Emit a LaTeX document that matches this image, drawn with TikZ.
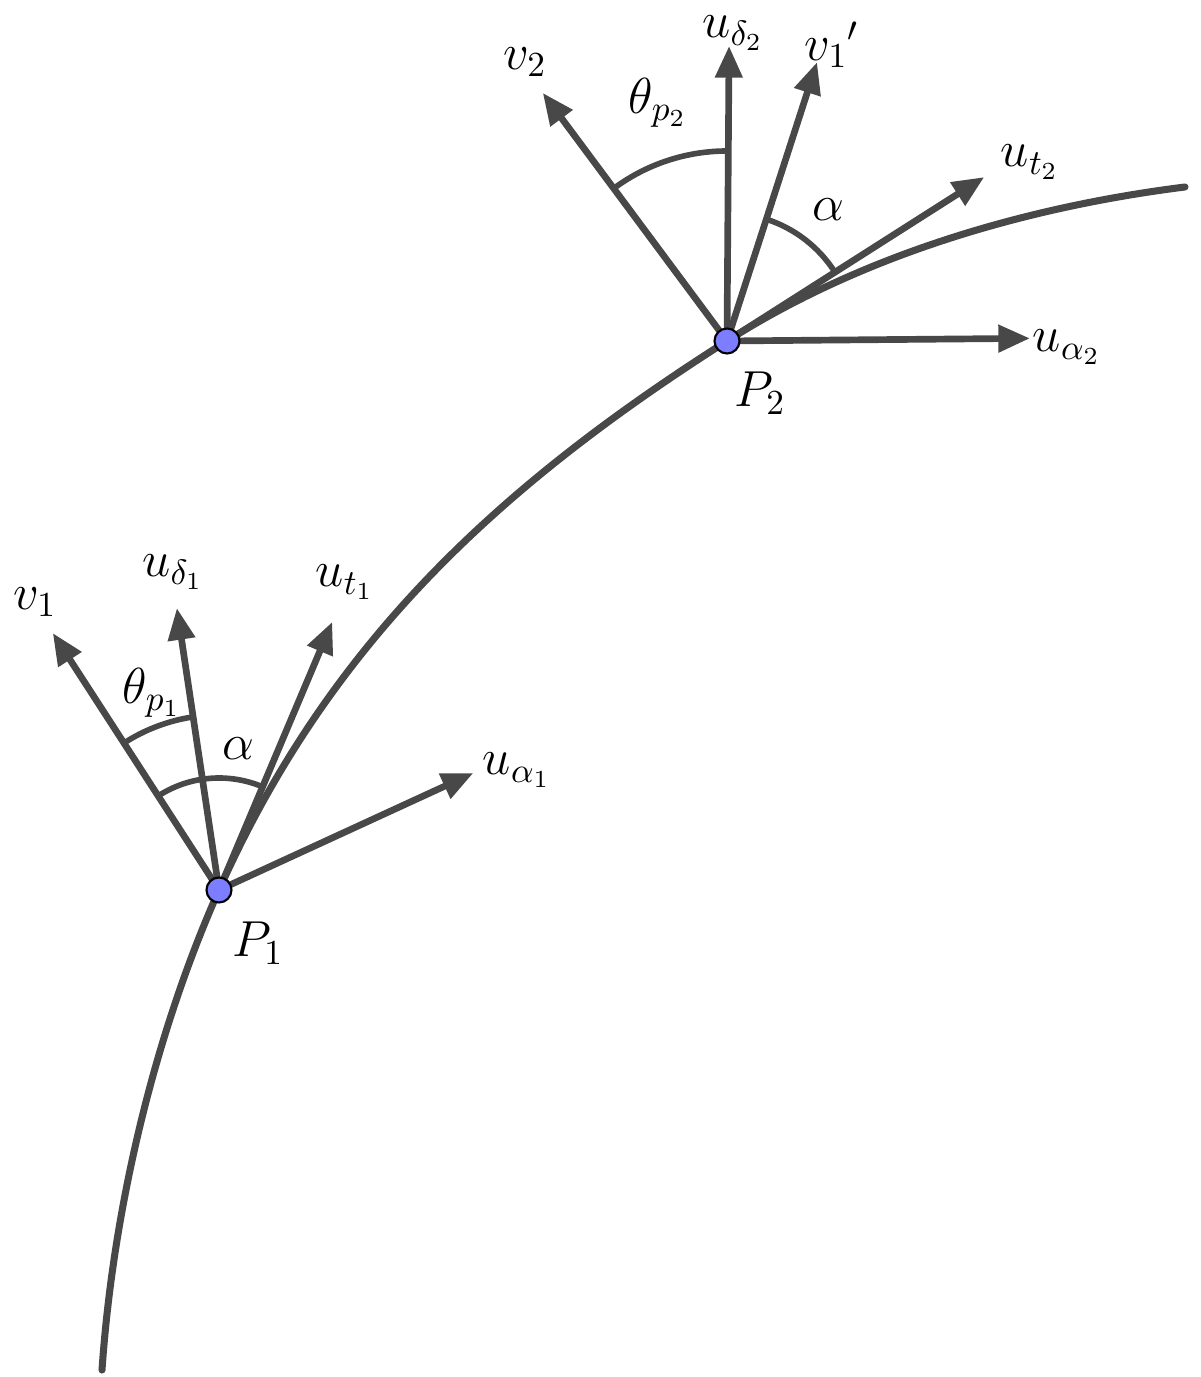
\documentclass[tikz,border=0pt]{standalone}
\usepackage{amsmath}
\usetikzlibrary{arrows.meta}
\definecolor{ggray}{RGB}{72,72,72}
\definecolor{ptblue}{RGB}{125,125,255}

\begin{document}
\begin{tikzpicture}[
	vec/.style={ggray,line width=1.9pt,-{Triangle[length=9pt,width=7.5pt]}},
	ang/.style={ggray,line width=1.6pt},
	pt/.style={
	  circle,
	  draw=black,
	  fill=ptblue,
	  line width=0.6pt,
	  minimum size=0.25cm,
	  inner sep=0pt
	  },
	lbl/.style={font=\Large,inner sep=1pt}
	]
	\useasboundingbox (0,0) rectangle (12,13.77);

	\coordinate (p1) at (2.19,4.87);
	\coordinate (p2) at (7.27,10.36);
	\coordinate (cbeg) at (1.02,0.07);
	\coordinate (cend) at (11.85,11.90);

	% the path
	\draw[ggray,line width=2pt,line cap=round]
		(cbeg) .. controls (1.13,1.67) and (1.54,3.41) .. (p1)
		.. controls (3.29,7.34) and (4.99,8.91) .. (p2)
		.. controls (8.62,11.22) and (10.26,11.70) .. (cend);

	% first point
	\coordinate (v1) at ([shift={(122.9:3.06)}]p1);
	\coordinate (ud1) at ([shift={(98.5:2.85)}]p1);
	\coordinate (ut1) at ([shift={(67.1:2.91)}]p1);
	\coordinate (ua1) at ([shift={(24.7:2.80)}]p1);

	\draw[vec] (p1) -- (v1);
	\draw[vec] (p1) -- (ud1);
	\draw[vec] (p1) -- (ut1);
	\draw[vec] (p1) -- (ua1);
	\draw[ang] ([shift={(122.9:1.75)}]p1) arc[start angle=122.9,end angle=98.5,radius=1.75];
	\draw[ang] ([shift={(122.9:1.12)}]p1) arc[start angle=122.9,end angle=67.1,radius=1.12];

	\node[pt] (P1) at (p1) {};
	\node[lbl] (lP1) at (2.58,4.34) {$P_1$};
	\node[lbl] (lv1) at (0.35,7.75) {$v_1$};
	\node[lbl] (lud1) at (1.73,8.05) {$u_{\delta_1}$};
	\node[lbl] (lut1) at (3.45,7.95) {$u_{t_1}$};
	\node[lbl] (lua1) at (5.17,6.07) {$u_{\alpha_1}$};
	\node[lbl] (lth1) at (1.52,6.84) {$\theta_{p_1}$};
	\node[lbl] (lal1) at (2.38,6.28) {$\alpha$};

	% second point
	\coordinate (v2) at ([shift={(126.6:3.09)}]p2);
	\coordinate (ud2) at ([shift={(89.6:2.95)}]p2);
	\coordinate (v1p) at ([shift={(72.1:2.93)}]p2);
	\coordinate (ut2) at ([shift={(32.5:3.05)}]p2);
	\coordinate (ua2) at ([shift={(0.5:3.03)}]p2);

	\draw[vec] (p2) -- (v2);
	\draw[vec] (p2) -- (ud2);
	\draw[vec] (p2) -- (v1p);
	\draw[vec] (p2) -- (ut2);
	\draw[vec] (p2) -- (ua2);
	\draw[ang] ([shift={(126.6:1.90)}]p2) arc[start angle=126.6,end angle=89.6,radius=1.90];
	\draw[ang] ([shift={(72.1:1.28)}]p2) arc[start angle=72.1,end angle=32.5,radius=1.28];

	\node[pt] (P2) at (p2) {};
	\node[lbl] (lP2) at (7.60,9.84) {$P_2$};
	\node[lbl] (lv2) at (5.25,13.15) {$v_2$};
	\node[lbl] (lud2) at (7.33,13.44) {$u_{\delta_2}$};
	\node[lbl] (lv1p) at (8.32,13.32) {${v_1}'$};
	\node[lbl] (lut2) at (10.30,12.15) {$u_{t_2}$};
	\node[lbl] (lua2) at (10.67,10.30) {$u_{\alpha_2}$};
	\node[lbl] (lth2) at (6.58,12.74) {$\theta_{p_2}$};
	\node[lbl] (lal2) at (8.28,11.67) {$\alpha$};
\end{tikzpicture}
\end{document}
